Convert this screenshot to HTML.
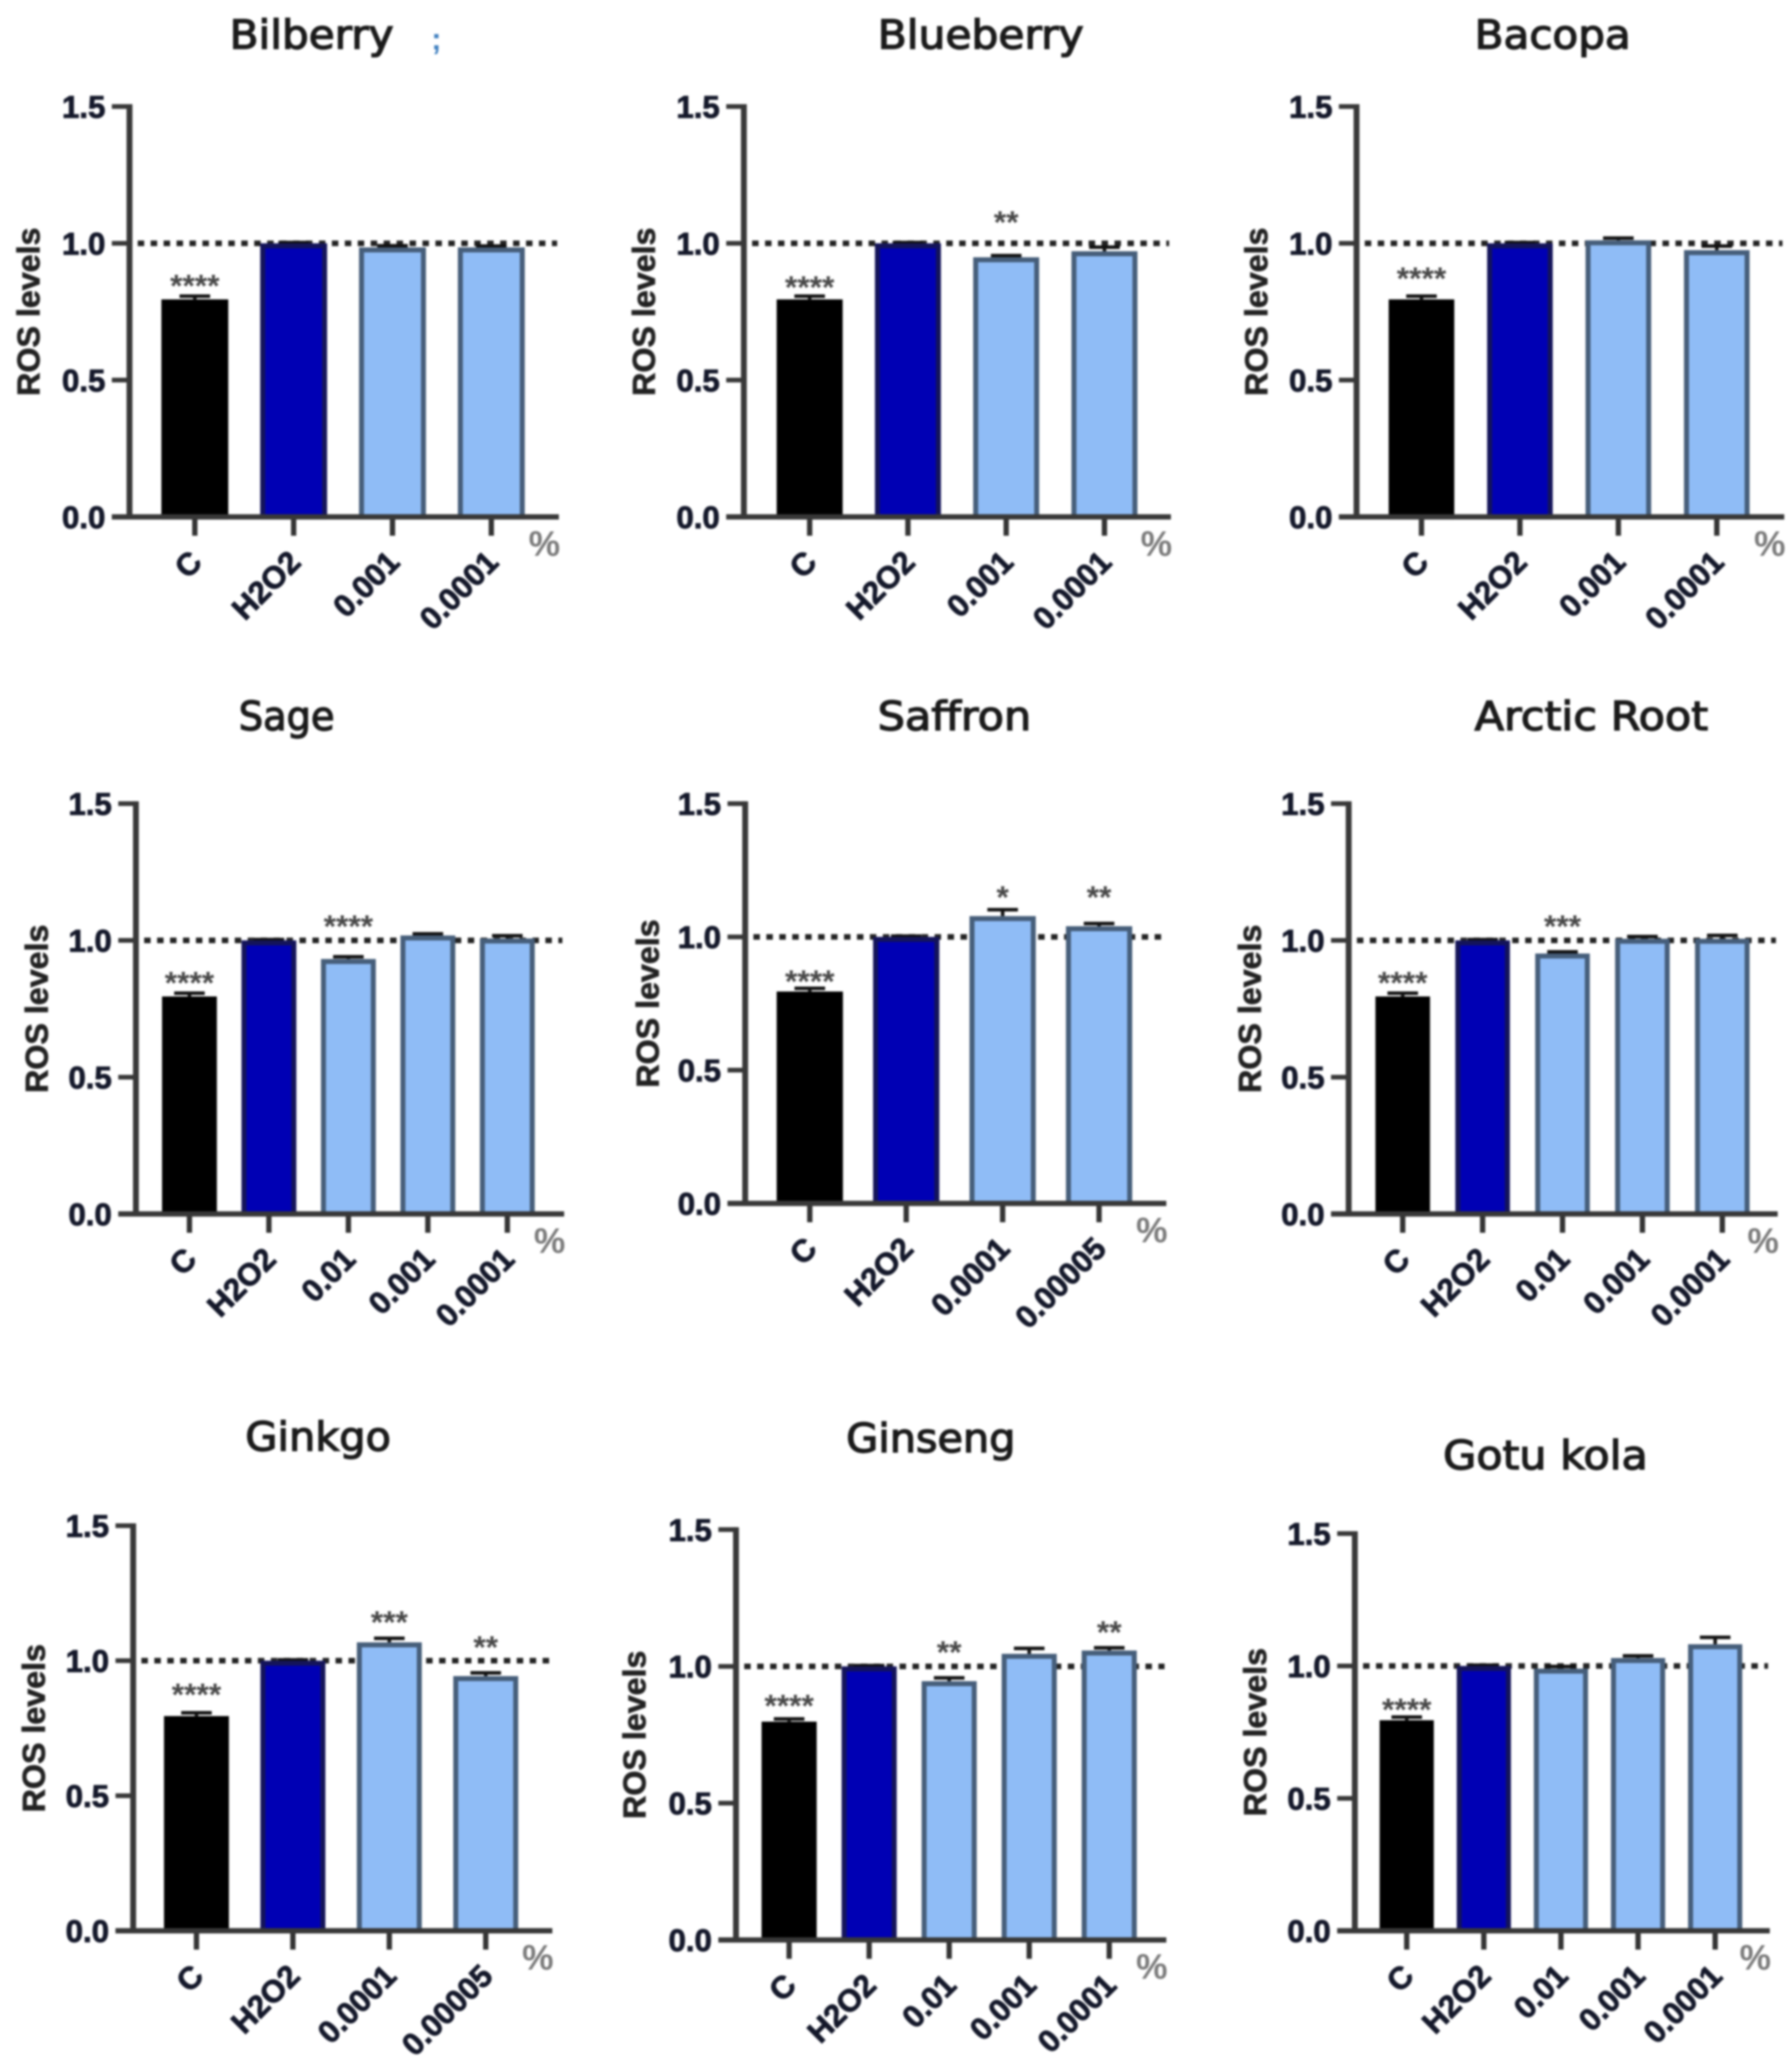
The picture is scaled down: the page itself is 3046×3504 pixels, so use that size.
<!DOCTYPE html>
<html lang="en">
<head>
<meta charset="utf-8">
<title>ROS levels by botanical extract</title>
<style>
  html, body { margin: 0; padding: 0; background: #fff; }
  #figure { display: block; width: 3046px; height: 3504px; filter: blur(1.8px); }
  .tick-label { font: bold 53px "Liberation Sans", sans-serif; fill: #14182a; stroke: #14182a; stroke-width: 1.4px; }
  .axis-title { font: bold 54px "Liberation Sans", sans-serif; fill: #222222; stroke: #222222; stroke-width: 1.2px; }
  .panel-title { font: normal 68px "DejaVu Sans", "Liberation Sans", sans-serif; fill: #1a1a1a; stroke: #1a1a1a; stroke-width: 2.2px; }
  .stars { font: bold 54px "Liberation Sans", sans-serif; fill: #484848; }
  .unit { font: bold 60px "Liberation Sans", sans-serif; fill: #7a7a7a; }
</style>
</head>
<body>
<svg id="figure" xmlns="http://www.w3.org/2000/svg" width="3046" height="3504" viewBox="0 0 3046 3504">
  <rect width="3046" height="3504" fill="#ffffff"/>
  <text x="733" y="84" font-family="Liberation Sans, sans-serif" font-weight="bold" font-size="52" fill="#3f7fbf">;</text>
</svg>
<script>
const yTicks = [0, 0.5, 1.0, 1.5];
const yTickLabels = ['0.0', '0.5', '1.0', '1.5'];
const yAxisTitle = 'ROS levels';
const unitLabel = '%';

const bilberryCategories = ['C', 'H2O2', '0.001', '0.0001'];
const bilberryValues = [0.795, 1.0, 0.985, 0.985];
const bilberryErrors = [0.012, 0.003, 0.006, 0.005];
const bilberryStars = ['****', '', '', ''];
const bilberryStarLevels = [0.865, 0, 0, 0];

const blueberryCategories = ['C', 'H2O2', '0.001', '0.0001'];
const blueberryValues = [0.795, 1.0, 0.949, 0.971];
const blueberryErrors = [0.012, 0.003, 0.006, 0.015];
const blueberryStars = ['****', '', '**', ''];
const blueberryStarLevels = [0.86, 0, 1.098, 0];

const bacopaCategories = ['C', 'H2O2', '0.001', '0.0001'];
const bacopaValues = [0.795, 1.0, 1.011, 0.975];
const bacopaErrors = [0.012, 0.003, 0.008, 0.015];
const bacopaStars = ['****', '', '', ''];
const bacopaStarLevels = [0.892, 0, 0, 0];

const sageCategories = ['C', 'H2O2', '0.01', '0.001', '0.0001'];
const sageValues = [0.795, 1.0, 0.932, 1.018, 1.007];
const sageErrors = [0.012, 0.003, 0.008, 0.006, 0.01];
const sageStars = ['****', '', '****', '', ''];
const sageStarLevels = [0.866, 0, 1.072, 0, 0];

const saffronCategories = ['C', 'H2O2', '0.0001', '0.00005'];
const saffronValues = [0.795, 1.0, 1.078, 1.04];
const saffronErrors = [0.012, 0.003, 0.024, 0.01];
const saffronStars = ['****', '', '*', '**'];
const saffronStarLevels = [0.854, 0, 1.17, 1.17];

const arcticRootCategories = ['C', 'H2O2', '0.01', '0.001', '0.0001'];
const arcticRootValues = [0.795, 1.0, 0.952, 1.006, 1.006];
const arcticRootErrors = [0.012, 0.003, 0.006, 0.008, 0.012];
const arcticRootStars = ['****', '', '***', '', ''];
const arcticRootStarLevels = [0.866, 0, 1.072, 0, 0];

const ginkgoCategories = ['C', 'H2O2', '0.0001', '0.00005'];
const ginkgoValues = [0.795, 1.0, 1.068, 0.943];
const ginkgoErrors = [0.012, 0.003, 0.015, 0.012];
const ginkgoStars = ['****', '', '***', '**'];
const ginkgoStarLevels = [0.896, 0, 1.164, 1.071];

const ginsengCategories = ['C', 'H2O2', '0.01', '0.001', '0.0001'];
const ginsengValues = [0.798, 1.0, 0.946, 1.046, 1.058];
const ginsengErrors = [0.01, 0.003, 0.012, 0.02, 0.01];
const ginsengStars = ['****', '', '**', '', '**'];
const ginsengStarLevels = [0.877, 0, 1.073, 0, 1.146];

const gotuKolaCategories = ['C', 'H2O2', '0.01', '0.001', '0.0001'];
const gotuKolaValues = [0.795, 1.0, 0.99, 1.03, 1.082];
const gotuKolaErrors = [0.012, 0.003, 0.008, 0.008, 0.026];
const gotuKolaStars = ['****', '', '', '', ''];
const gotuKolaStarLevels = [0.857, 0, 0, 0, 0];

const SX = 2.23, SY = 2.235;
const NS = 'http://www.w3.org/2000/svg';
const root = document.getElementById('figure');

const panels = [
  { title: 'Bilberry', tl: 175, tr: 300, tb: 37, cats: bilberryCategories, vals: bilberryValues, errs: bilberryErrors, stars: bilberryStars, levels: bilberryStarLevels,
    frame: { axis: 98.7, y0: 393, y15: 81, right: 426, first: 123, last: 400, bar: 51, titleX: 11 } },
  { title: 'Blueberry', tl: 669, tr: 826, tb: 37, cats: blueberryCategories, vals: blueberryValues, errs: blueberryErrors, stars: blueberryStars, levels: blueberryStarLevels,
    frame: { axis: 567, y0: 393, y15: 81, right: 892.5, first: 592, last: 867, bar: 50.3, titleX: 480 } },
  { title: 'Bacopa', tl: 1124, tr: 1243, tb: 37, cats: bacopaCategories, vals: bacopaValues, errs: bacopaErrors, stars: bacopaStars, levels: bacopaStarLevels,
    frame: { axis: 1034, y0: 393, y15: 81, right: 1360, first: 1058.5, last: 1333.6, bar: 50, titleX: 947 } },
  { title: 'Sage', tl: 182, tr: 255, tb: 555, cats: sageCategories, vals: sageValues, errs: sageErrors, stars: sageStars, levels: sageStarLevels,
    frame: { axis: 103.6, y0: 923, y15: 611, right: 430, first: 123.5, last: 407.6, bar: 41.8, titleX: 17.3 } },
  { title: 'Saffron', tl: 669, tr: 786, tb: 555, cats: saffronCategories, vals: saffronValues, errs: saffronErrors, stars: saffronStars, levels: saffronStarLevels,
    frame: { axis: 568, y0: 915, y15: 611, right: 889, first: 592, last: 863, bar: 50.5, titleX: 483 } },
  { title: 'Arctic Root', tl: 1124, tr: 1302, tb: 555, cats: arcticRootCategories, vals: arcticRootValues, errs: arcticRootErrors, stars: arcticRootStars, levels: arcticRootStarLevels,
    frame: { axis: 1028, y0: 923, y15: 611, right: 1355, first: 1048.4, last: 1333.6, bar: 41.6, titleX: 942 } },
  { title: 'Ginkgo', tl: 187, tr: 298, tb: 1103, cats: ginkgoCategories, vals: ginkgoValues, errs: ginkgoErrors, stars: ginkgoStars, levels: ginkgoStarLevels,
    frame: { axis: 101.5, y0: 1468, y15: 1160, right: 421, first: 125, last: 395, bar: 49.5, titleX: 15 } },
  { title: 'Ginseng', tl: 645, tr: 774, tb: 1104, cats: ginsengCategories, vals: ginsengValues, errs: ginsengErrors, stars: ginsengStars, levels: ginsengStarLevels,
    frame: { axis: 561, y0: 1475, y15: 1163, right: 889, first: 580.5, last: 866.5, bar: 42, titleX: 473 } },
  { title: 'Gotu kola', tl: 1100, tr: 1256, tb: 1117, cats: gotuKolaCategories, vals: gotuKolaValues, errs: gotuKolaErrors, stars: gotuKolaStars, levels: gotuKolaStarLevels,
    frame: { axis: 1032.7, y0: 1468, y15: 1166, right: 1349, first: 1051.6, last: 1328, bar: 41.3, titleX: 946 } }
];

function svgEl(tag, attrs, parent) {
  const el = document.createElementNS(NS, tag);
  for (const k in attrs) el.setAttribute(k, attrs[k]);
  parent.appendChild(el);
  return el;
}

function slug(s) { return s.toLowerCase().replace(/[^a-z0-9]+/g, '-'); }

function barFill(i) { return i === 0 ? '#000000' : i === 1 ? '#0000b4' : '#8fbcf6'; }
function barStroke(i) { return i === 0 ? '#000000' : i === 1 ? '#14145a' : '#465e7a'; }

panels.forEach(function (p) {
  const f = p.frame;
  const n = p.cats.length;
  const name = slug(p.title);
  const yScale = function (v) { return (f.y0 + (f.y15 - f.y0) * (v / 1.5)) * SY; };
  const barW = f.bar * SX;
  const firstX = f.first * SX, lastX = f.last * SX;
  const step = (lastX - firstX - barW) / (n - 1);
  const xCenter = function (i) { return firstX + barW / 2 + i * step; };
  const axisX = f.axis * SX, rightX = f.right * SX, baseY = yScale(0);
  const sw = 8.5;

  const g = svgEl('g', {}, root);
  
  

  const title = svgEl('text', { class: 'panel-title', x: p.tl * SX, y: p.tb * SY, textLength: (p.tr - p.tl) * SX, lengthAdjust: 'spacingAndGlyphs' }, g);
  
  
  title.textContent = p.title;

  const yTitle = svgEl('text', { class: 'axis-title', 'text-anchor': 'middle', transform: 'translate(' + ((f.titleX + 19) * SX) + ' ' + ((f.y0 + f.y15) / 2 * SY) + ') rotate(-90)', textLength: 286, lengthAdjust: 'spacingAndGlyphs' }, g);
  
  
  yTitle.textContent = yAxisTitle;

  // reference line sits behind the bars
  const ref = svgEl('line', { x1: axisX + 14, x2: rightX - 3, y1: yScale(1), y2: yScale(1), stroke: '#222222', 'stroke-width': 9.5, 'stroke-dasharray': '11 11' }, g);
  
  

  p.vals.forEach(function (v, i) {
    const cx = xCenter(i);
    const top = yScale(v);
    const errTop = yScale(v + p.errs[i]);

    const err = svgEl('path', {
      d: 'M' + (cx - 26) + ' ' + errTop + 'H' + (cx + 26) + 'M' + cx + ' ' + errTop + 'V' + top,
      stroke: '#111', 'stroke-width': 6, fill: 'none'
    }, g);
    
    

    const bar = svgEl('rect', {
      x: cx - barW / 2 + sw / 2, y: top + sw / 2, width: barW - sw, height: baseY - top - sw / 2,
      fill: barFill(i), stroke: barStroke(i), 'stroke-width': sw
    }, g);
    
    

    const tick = svgEl('line', { x1: cx, x2: cx, y1: baseY, y2: baseY + 32, stroke: '#333', 'stroke-width': 9 }, g);
    
    

    const lx = cx + 15, ly = baseY + 80;
    const label = svgEl('text', { class: 'tick-label', 'text-anchor': 'end', transform: 'translate(' + lx + ' ' + ly + ') rotate(-45)' }, g);
    
    
    label.textContent = p.cats[i];

    if (p.stars[i]) {
      const st = svgEl('text', { class: 'stars', 'text-anchor': 'middle', x: cx, y: yScale(p.levels[i]) + 28 }, g);
      
      
      st.textContent = p.stars[i];
    }
  });

  const yAxis = svgEl('line', { x1: axisX, x2: axisX, y1: yScale(1.5) - 4, y2: baseY + 4, stroke: '#383838', 'stroke-width': 10 }, g);
  
  

  const xAxis = svgEl('line', { x1: axisX - 30, x2: rightX, y1: baseY, y2: baseY, stroke: '#383838', 'stroke-width': 9 }, g);
  
  

  yTicks.forEach(function (t, i) {
    const ty = yScale(t);
    const tk = svgEl('line', { x1: axisX - 30, x2: axisX, y1: ty, y2: ty, stroke: '#383838', 'stroke-width': 8 }, g);
    
    

    const tl = svgEl('text', { class: 'tick-label', 'text-anchor': 'end', x: axisX - 41, y: ty + 19 }, g);
    
    
    tl.textContent = yTickLabels[i];
  });

  const unit = svgEl('text', { class: 'unit', 'text-anchor': 'end', x: rightX + 2, y: baseY + 66 }, g);
  
  
  unit.textContent = unitLabel;
});
</script>
</body>
</html>
